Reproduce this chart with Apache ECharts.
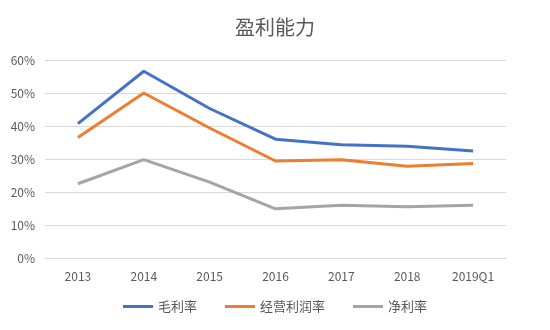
<!DOCTYPE html>
<html><head><meta charset="utf-8">
<script src="https://cdn.jsdelivr.net/npm/echarts@6/dist/echarts.min.js"></script>
<style>html,body{margin:0;padding:0;background:#fff}#c{width:550px;height:330px}</style>
</head><body><div id="c"></div>
<script>
var categories = ['2013','2014','2015','2016','2017','2018','2019Q1'];
var grossMargin = [40.7, 56.6, 45.3, 36.0, 34.3, 33.9, 32.4];
var operatingMargin = [36.5, 50.0, 39.4, 29.4, 29.8, 27.8, 28.6];
var netMargin = [22.5, 29.8, 23.0, 14.9, 16.0, 15.5, 16.0];
var seriesNames = ['毛利率','经营利润率','净利率'];
var colors = ['#4472C4','#ED7D31','#A5A5A5'];
var chart = echarts.init(document.getElementById('c'));
var font = 'Microsoft YaHei, "Noto Sans CJK SC", sans-serif';
function mk(name, data, color){
  return {name:name,type:'line',data:data,symbol:'none',smooth:false,
    lineStyle:{width:3,color:color},itemStyle:{color:color}};
}
chart.setOption({
  animation:false,
  title:{text:'盈利能力',left:'center',top:12,textStyle:{fontFamily:font,fontSize:20,fontWeight:'normal',color:'#595959'}},
  legend:{bottom:12,left:'center',itemWidth:30,itemHeight:3,itemGap:28,icon:'rect',
    textStyle:{fontFamily:font,fontSize:13,color:'#595959'},data:seriesNames},
  grid:{left:45,right:44,top:60,bottom:72,containLabel:false},
  xAxis:{type:'category',data:categories,boundaryGap:true,
    axisLine:{show:false},axisTick:{show:false},
    axisLabel:{color:'#595959',fontSize:12,margin:12,fontFamily:font}},
  yAxis:{type:'value',min:0,max:60,interval:10,
    axisLabel:{formatter:'{value}%',color:'#595959',fontSize:12,fontFamily:font,margin:10},
    axisLine:{show:false},axisTick:{show:false},
    splitLine:{lineStyle:{color:'#D9D9D9',width:1}}},
  series:[mk(seriesNames[0],grossMargin,colors[0]),mk(seriesNames[1],operatingMargin,colors[1]),mk(seriesNames[2],netMargin,colors[2])]
});
</script></body></html>
